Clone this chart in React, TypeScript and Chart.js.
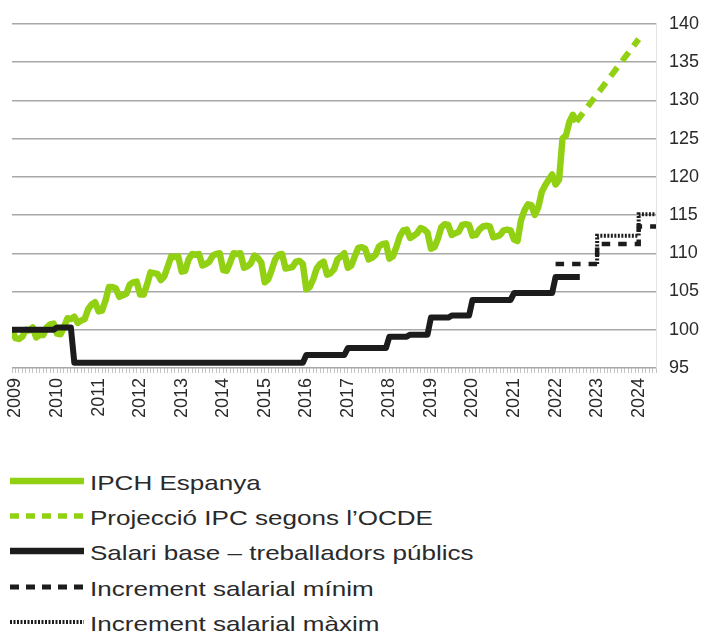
import React, { useEffect, useRef } from 'react';
import { Chart, registerables } from 'chart.js';

Chart.register(...registerables);

// x values are months since Jan 2009 (0 = Jan 2009, -1 = Dec 2008)
const yearTicks = ['2009', '2010', '2011', '2012', '2013', '2014', '2015', '2016', '2017', '2018', '2019', '2020', '2021', '2022', '2023', '2024'];

// IPCH Espanya, monthly from Dec 2008 (index Dec 2008 = 100)
const ipchStartMonth = -1;
const ipchValues = [
  100.0,
  98.9, 98.8, 99.1, 100.0, 99.9, 100.3, 99.0, 99.3, 99.3, 100.3, 100.7, 100.8,
  99.5, 99.4, 100.3, 101.5, 101.4, 101.7, 100.9, 101.2, 101.4, 102.7, 103.3, 103.6,
  102.4, 102.5, 103.8, 105.6, 105.6, 105.4, 104.3, 104.5, 104.7, 105.9, 106.2, 106.3,
  104.6, 104.6, 105.9, 107.5, 107.4, 107.3, 106.5, 107.0, 108.3, 109.6, 109.5, 109.6,
  107.6, 107.7, 109.2, 109.9, 109.8, 109.9, 108.4, 108.6, 108.9, 109.7, 109.9, 110.0,
  107.8, 107.7, 108.8, 110.0, 109.9, 110.0, 108.1, 108.3, 108.7, 109.7, 109.4, 108.8,
  106.2, 106.6, 107.8, 109.2, 109.8, 109.9, 108.0, 108.1, 108.2, 108.9, 109.0, 108.6,
  105.3, 105.6, 106.6, 108.0, 108.6, 108.9, 107.2, 107.4, 107.9, 109.2, 109.6, 110.0,
  108.1, 108.4, 109.6, 110.7, 110.8, 110.6, 109.2, 109.4, 109.8, 110.9, 111.2, 111.3,
  109.3, 109.6, 110.8, 112.2, 113.0, 113.1, 112.0, 112.3, 112.6, 113.3, 113.1, 112.7,
  110.6, 110.8, 111.9, 113.4, 113.8, 113.7, 112.4, 112.6, 112.8, 113.7, 113.8, 113.7,
  112.3, 112.4, 113.1, 113.5, 113.6, 113.5, 112.1, 112.2, 112.4, 113.0, 113.1, 113.0,
  111.8, 111.6, 114.3, 115.6, 116.4, 116.3, 115.0, 116.0, 118.0, 118.9, 119.6, 120.3,
  119.0, 119.6, 125.0, 125.4, 127.2, 128.1, 127.2,
];

// Projecció IPC segons l'OCDE
const projMonths = [162, 180];
const projValues = [127.2, 138.0];

// Salari base – treballadors públics (breakpoints)
const salaryMonths = [-1, 11, 12, 16, 17, 83, 84, 95, 96, 107, 108, 113, 114, 119, 120, 125, 126, 131, 132, 143, 144, 155, 156, 163];
const salaryValues = [100.0, 100.0, 100.3, 100.3, 95.7, 95.7, 96.7, 96.7, 97.6, 97.6, 99.1, 99.1, 99.35, 99.35, 101.6, 101.6, 101.85, 101.85, 103.9, 103.9, 104.8, 104.8, 106.9, 106.9];

// Increment salarial mínim
const minMonths = [156, 168, 168, 180, 180, 185];
const minValues = [108.6, 108.6, 111.2, 111.2, 113.5, 113.5];

// Increment salarial màxim
const maxMonths = [168, 168, 180, 180, 185];
const maxValues = [108.6, 112.3, 112.3, 115.1, 115.1];

const legendLabels = [
  'IPCH Espanya',
  'Projecció IPC segons l\u2019OCDE',
  'Salari base \u2013 treballadors públics',
  'Increment salarial mínim',
  'Increment salarial màxim',
];

const GREEN = '#92d014';
const BLACK = '#1c1c1c';

const pts = (xs: number[], ys: number[]) => xs.map((x, i) => ({ x, y: ys[i] }));

export default function App() {
  const ref = useRef<HTMLCanvasElement>(null);

  useEffect(() => {
    document.body.style.margin = '0';
    Chart.defaults.font.family = "'Liberation Sans', Arial, sans-serif";
    const canvas = ref.current!;
    const chart = new Chart(canvas, {
      type: 'line',
      data: {
        datasets: [
          {
            label: legendLabels[2],
            data: pts(salaryMonths, salaryValues),
            borderColor: BLACK,
            borderWidth: 6,
            pointRadius: 0,
            borderJoinStyle: 'round',
            order: 0,
          },
          {
            label: legendLabels[3],
            data: pts(minMonths, minValues),
            borderColor: BLACK,
            borderWidth: 4.5,
            borderDash: [8.5, 8],
            pointRadius: 0,
            order: 1,
          },
          {
            label: legendLabels[4],
            data: pts(maxMonths, maxValues),
            borderColor: BLACK,
            borderWidth: 4,
            borderDash: [2, 1.5],
            pointRadius: 0,
            order: 1,
          },
          {
            label: legendLabels[0],
            data: ipchValues.map((v, i) => ({ x: ipchStartMonth + i, y: v })),
            borderColor: GREEN,
            borderWidth: 6.5,
            pointRadius: 0,
            borderJoinStyle: 'round',
            order: 3,
          },
          {
            label: legendLabels[1],
            data: pts(projMonths, projValues),
            borderColor: GREEN,
            borderWidth: 6,
            borderDash: [11, 8],
            pointRadius: 0,
            order: 3,
          },
        ],
      },
      options: {
        animation: false,
        responsive: false,
        layout: { padding: { left: 12, top: 15, right: 0, bottom: 0 } },
        plugins: { legend: { display: false }, tooltip: { enabled: false } },
        scales: {
          x: {
            type: 'linear',
            min: -1,
            max: 185,
            border: { display: false },
            grid: {
              display: true,
              drawOnChartArea: false,
              drawTicks: true,
              tickLength: 5,
              color: '#c4c4c4',
              lineWidth: 1,
            },
            ticks: {
              stepSize: 1,
              autoSkip: false,
              maxRotation: 90,
              minRotation: 90,
              padding: 5,
              color: '#2a2a2a',
              font: { size: 18 },
              callback: (value: any) => {
                const v = Number(value);
                if (v >= 0 && v % 12 === 0) return yearTicks[v / 12] ?? '';
                return '';
              },
            },
            afterFit: (scale: any) => {
              scale.height = 77;
            },
          },
          y: {
            position: 'right',
            min: 95,
            max: 140,
            border: { display: true, color: '#e4e4e4' },
            grid: { color: '#a8a8a8', lineWidth: 1.5, drawTicks: false },
            ticks: {
              stepSize: 5,
              padding: 13,
              color: '#2a2a2a',
              font: { size: 18 },
            },
            afterFit: (scale: any) => {
              scale.width = 46;
            },
          },
        },
      },
    });
    return () => chart.destroy();
  }, []);

  const rowCenters = [481, 516, 551, 587, 622];
  const samples = [
    { color: GREEN, width: 6.5, dash: '' },
    { color: GREEN, width: 5.5, dash: '9 7' },
    { color: BLACK, width: 6.5, dash: '' },
    { color: BLACK, width: 5, dash: '9 7' },
    { color: BLACK, width: 4, dash: '2 1.5' },
  ];

  return (
    <div style={{ position: 'relative', width: 702, height: 640, background: '#fff', overflow: 'hidden' }}>
      <canvas ref={ref} width={702} height={445} style={{ position: 'absolute', left: 0, top: 0, width: 702, height: 445 }} />
      {legendLabels.map((label, i) => (
        <React.Fragment key={label}>
          <svg
            width={76}
            height={12}
            style={{ position: 'absolute', left: 9, top: rowCenters[i] - 6 }}
          >
            <line
              x1={1}
              y1={6}
              x2={75}
              y2={6}
              stroke={samples[i].color}
              strokeWidth={samples[i].width}
              strokeDasharray={samples[i].dash || undefined}
            />
          </svg>
          <div
            style={{
              position: 'absolute',
              left: 90,
              top: rowCenters[i] - 9.3,
              fontFamily: "'Liberation Sans', Arial, sans-serif",
              fontSize: 21,
              lineHeight: '21px',
              color: '#2a2a2a',
              whiteSpace: 'nowrap',
              transform: 'scaleX(1.24)',
              transformOrigin: 'left center',
            }}
          >
            {label}
          </div>
        </React.Fragment>
      ))}
    </div>
  );
}
